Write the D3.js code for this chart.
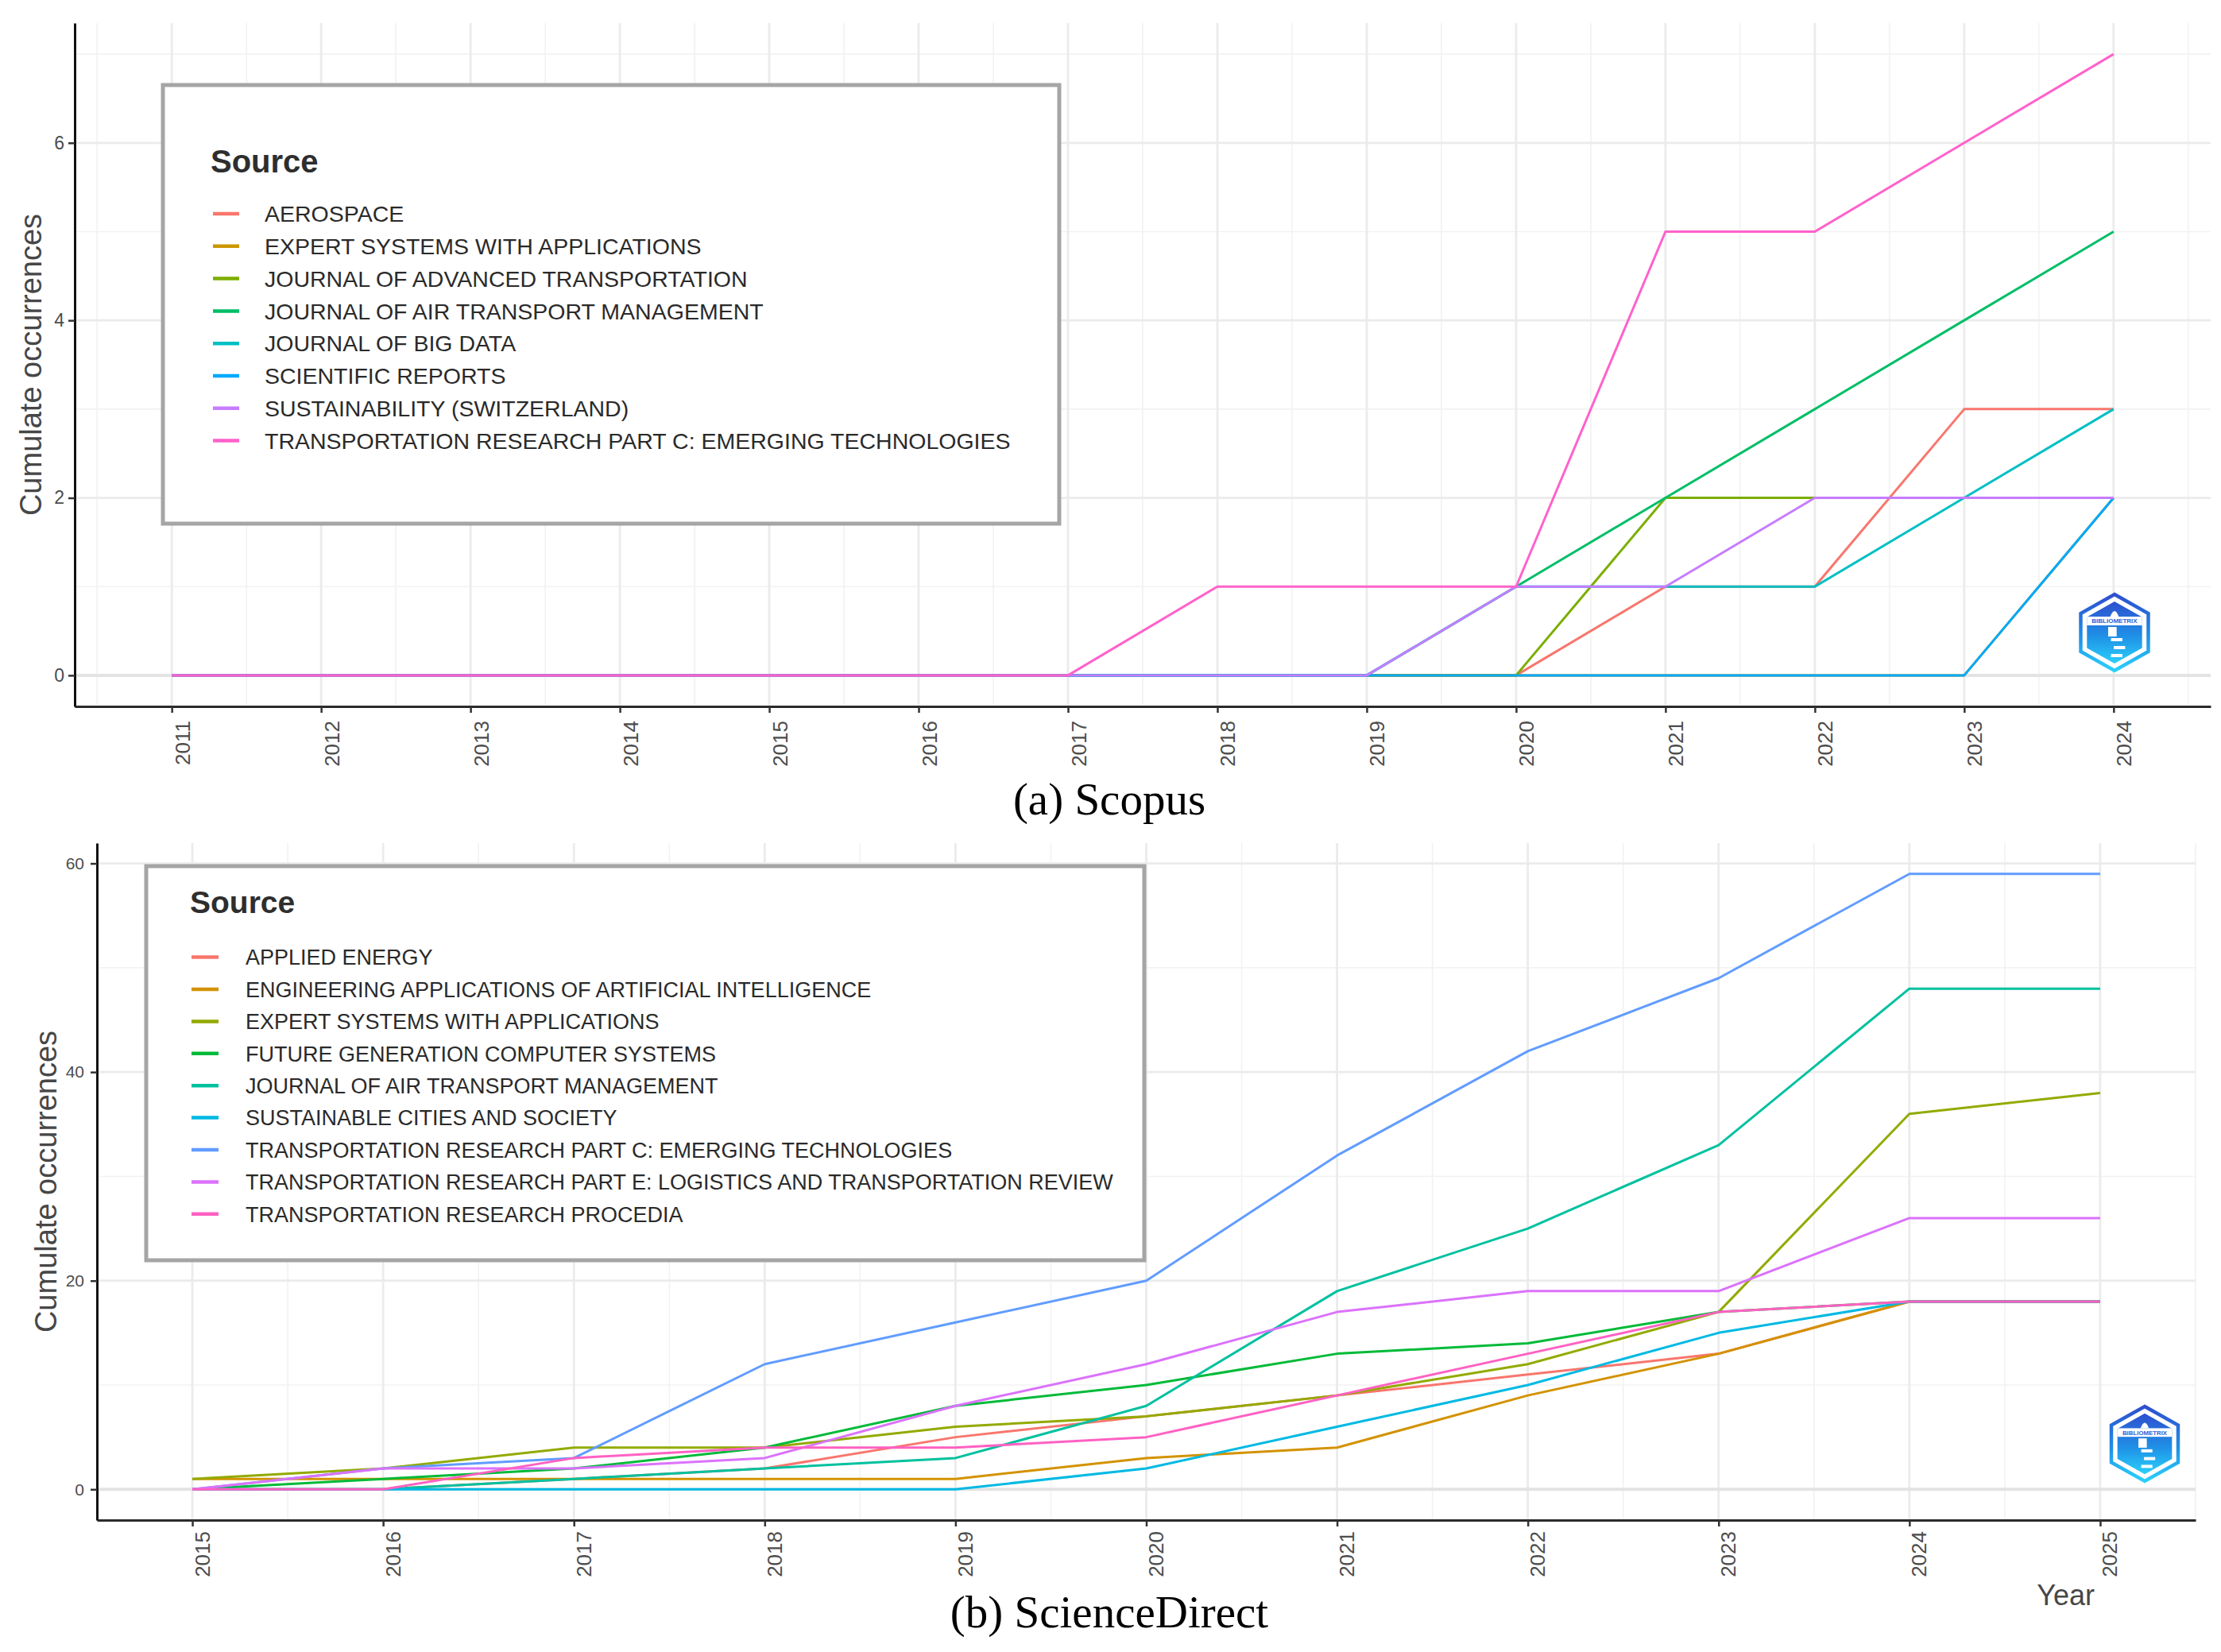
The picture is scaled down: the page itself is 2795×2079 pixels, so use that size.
<!DOCTYPE html>
<html>
<head>
<meta charset="utf-8">
<script src="https://cdn.jsdelivr.net/npm/d3@7"></script>
<style>
  body{margin:0;background:#fff;}
  svg{display:block;}
</style>
</head>
<body>
<svg id="fig"></svg>
<script>
/* ---------- (a) Scopus ---------- */
const yearsA = [2011,2012,2013,2014,2015,2016,2017,2018,2019,2020,2021,2022,2023,2024];
const sourcesA = [
  "AEROSPACE",
  "EXPERT SYSTEMS WITH APPLICATIONS",
  "JOURNAL OF ADVANCED TRANSPORTATION",
  "JOURNAL OF AIR TRANSPORT MANAGEMENT",
  "JOURNAL OF BIG DATA",
  "SCIENTIFIC REPORTS",
  "SUSTAINABILITY (SWITZERLAND)",
  "TRANSPORTATION RESEARCH PART C: EMERGING TECHNOLOGIES"
];
const aerospace   = [0,0,0,0,0,0,0,0,0,0,1,1,3,3];
const expertSysA  = [0,0,0,0,0,0,0,0,0,0,0,0,0,2];
const jAdvTransp  = [0,0,0,0,0,0,0,0,0,0,2,2,2,2];
const jAirTranspA = [0,0,0,0,0,0,0,0,0,1,2,3,4,5];
const jBigData    = [0,0,0,0,0,0,0,0,0,1,1,1,2,3];
const sciReports  = [0,0,0,0,0,0,0,0,0,0,0,0,0,2];
const sustain     = [0,0,0,0,0,0,0,0,0,1,1,2,2,2];
const trPartCA    = [0,0,0,0,0,0,0,1,1,1,5,5,6,7];
const seriesA = [aerospace,expertSysA,jAdvTransp,jAirTranspA,jBigData,sciReports,sustain,trPartCA];
const coloursA = ["#F8766D","#CD9600","#7CAE00","#00BE67","#00BFC4","#00A9FF","#C77CFF","#FF61CC"];
const yTicksA = [0,2,4,6];
const yMinorA = [1,3,5,7];

/* ---------- (b) ScienceDirect ---------- */
const yearsB = [2015,2016,2017,2018,2019,2020,2021,2022,2023,2024,2025];
const sourcesB = [
  "APPLIED ENERGY",
  "ENGINEERING APPLICATIONS OF ARTIFICIAL INTELLIGENCE",
  "EXPERT SYSTEMS WITH APPLICATIONS",
  "FUTURE GENERATION COMPUTER SYSTEMS",
  "JOURNAL OF AIR TRANSPORT MANAGEMENT",
  "SUSTAINABLE CITIES AND SOCIETY",
  "TRANSPORTATION RESEARCH PART C: EMERGING TECHNOLOGIES",
  "TRANSPORTATION RESEARCH PART E: LOGISTICS AND TRANSPORTATION REVIEW",
  "TRANSPORTATION RESEARCH PROCEDIA"
];
const appliedEnergy = [0,0,1,2,5,7,9,11,13,18,18];
const engAppAI      = [1,1,1,1,1,3,4,9,13,18,18];
const expertSysB    = [1,2,4,4,6,7,9,12,17,36,38];
const futureGenCS   = [0,1,2,4,8,10,13,14,17,18,18];
const jAirTranspB   = [0,0,1,2,3,8,19,25,33,48,48];
const sustCities    = [0,0,0,0,0,2,6,10,15,18,18];
const trPartCB      = [0,2,3,12,16,20,32,42,49,59,59];
const trPartE       = [0,2,2,3,8,12,17,19,19,26,26];
const trProcedia    = [0,0,3,4,4,5,9,13,17,18,18];
const seriesB = [appliedEnergy,engAppAI,expertSysB,futureGenCS,jAirTranspB,sustCities,trPartCB,trPartE,trProcedia];
const coloursB = ["#F8766D","#D39200","#93AA00","#00BA38","#00C19F","#00B9E3","#619CFF","#DB72FB","#FF61C3"];
const yTicksB = [0,20,40,60];
const yMinorB = [10,30,50];

/* ---------- canvas ---------- */
const WIDTH = 2795, HEIGHT = 2079;
const SANS = "'Liberation Sans', Arial, Helvetica, sans-serif";
const SERIF = "'Liberation Serif', 'Times New Roman', serif";
const svg = d3.select("#fig").attr("width",WIDTH).attr("height",HEIGHT)
  .attr("viewBox",`0 0 ${WIDTH} ${HEIGHT}`);

const defs = svg.append("defs");
const grad = defs.append("linearGradient").attr("id","logoGrad")
  .attr("x1",0).attr("y1",0).attr("x2",0).attr("y2",1);
grad.append("stop").attr("offset","0%").attr("stop-color","#2f4fcf");
grad.append("stop").attr("offset","55%").attr("stop-color","#1f8fe6");
grad.append("stop").attr("offset","100%").attr("stop-color","#2ad0fa");

/* ---------- one panel ---------- */
function drawPanel(p){
  const g = svg.append("g");
  const n = p.years.length;
  const x = d3.scaleLinear().domain([p.years[0]-p.xPad, p.years[n-1]+p.xPad]).range([p.l,p.r]);
  const y = d3.scaleLinear().domain(p.yDom).range([p.b,p.t]);

  // grid
  const xMinor = p.years.map(d=>d-0.5).concat([p.years[n-1]+0.5]).filter(d=>d>x.domain()[0]);
  const grid = g.append("g");
  grid.selectAll(".vmin").data(xMinor).join("line")
    .attr("x1",x).attr("x2",x).attr("y1",p.t).attr("y2",p.b)
    .attr("stroke","#f2f2f2").attr("stroke-width",1.6);
  grid.selectAll(".hmin").data(p.yMinor).join("line")
    .attr("x1",p.l).attr("x2",p.r).attr("y1",y).attr("y2",y)
    .attr("stroke","#f2f2f2").attr("stroke-width",1.6);
  grid.selectAll(".vmaj").data(p.years).join("line")
    .attr("x1",x).attr("x2",x).attr("y1",p.t).attr("y2",p.b)
    .attr("stroke","#ebebeb").attr("stroke-width",2.8);
  grid.selectAll(".hmaj").data(p.yMajor).join("line")
    .attr("x1",p.l).attr("x2",p.r).attr("y1",y).attr("y2",y)
    .attr("stroke",d=>d===0?"#e3e3e3":"#ebebeb").attr("stroke-width",d=>d===0?4:2.8);

  // series
  const line = d3.line().x((d,i)=>x(p.years[i])).y(d=>y(d));
  g.append("g").selectAll("path").data(p.series).join("path")
    .attr("d",line).attr("fill","none")
    .attr("stroke",(d,i)=>p.colours[i]).attr("stroke-width",3)
    .attr("stroke-linejoin","round");

  // x axis
  const ax = g.append("g").attr("transform",`translate(0,${p.b})`)
    .call(d3.axisBottom(x).tickValues(p.years).tickFormat(d3.format("d")).tickSize(8).tickSizeOuter(0))
    .attr("font-family",SANS).attr("font-size",p.xTickFont);
  ax.select(".domain").attr("stroke","#2b2b2b").attr("stroke-width",3);
  ax.selectAll(".tick line").attr("stroke","#333").attr("stroke-width",2.5);
  ax.selectAll(".tick text")
    .attr("transform","rotate(-90)").attr("x",-p.xLabGap).attr("y",p.xLabBase)
    .attr("dy",null).attr("text-anchor","end").attr("fill","#4d4d4d");

  // y axis
  const ay = g.append("g").attr("transform",`translate(${p.l},0)`)
    .call(d3.axisLeft(y).tickValues(p.yMajor).tickSize(8).tickPadding(p.yPad).tickSizeOuter(0))
    .attr("font-family",SANS).attr("font-size",p.yTickFont);
  ay.select(".domain").attr("stroke","#111").attr("stroke-width",3);
  ay.selectAll(".tick line").attr("stroke","#333").attr("stroke-width",2.5);
  ay.selectAll(".tick text").attr("fill","#4d4d4d");

  // y title
  g.append("text")
    .attr("transform",`translate(${p.yTitleX},${(p.t+p.b)/2}) rotate(-90)`)
    .attr("text-anchor","middle").attr("font-family",SANS).attr("font-size",38)
    .attr("fill","#474747").text("Cumulate occurrences");

  // legend
  const L = p.legend;
  const lg = g.append("g");
  lg.append("rect").attr("x",L.x).attr("y",L.y).attr("width",L.w).attr("height",L.h)
    .attr("fill","#fff").attr("stroke","#a5a5a5").attr("stroke-width",5);
  lg.append("text").attr("x",L.titleX).attr("y",L.titleY)
    .attr("font-family",SANS).attr("font-weight","bold").attr("font-size",L.titleFont)
    .attr("fill","#2e2e2e").text("Source");
  const item = lg.selectAll(".item").data(p.names).join("g")
    .attr("transform",(d,i)=>`translate(0,${L.itemY+i*L.step})`);
  item.append("line").attr("x1",L.keyX).attr("x2",L.keyX+L.keyW).attr("y1",0).attr("y2",0)
    .attr("stroke",(d,i)=>p.colours[i]).attr("stroke-width",4.5);
  item.append("text").attr("x",L.textX).attr("y",0).attr("dy","0.36em")
    .attr("font-family",SANS).attr("font-size",L.font).attr("fill","#2a2a2a").text(d=>d);

  drawLogo(p.logo[0],p.logo[1],p.logo[2],p.logo[3]);
  return g;
}

/* ---------- bibliometrix badge ---------- */
function drawLogo(cx,cy,w,h){
  const g = svg.append("g").attr("transform",`translate(${cx},${cy})`);
  const hex = (sw,sh)=>`M0,${-sh/2}L${sw/2},${-sh/4}L${sw/2},${sh/4}L0,${sh/2}L${-sw/2},${sh/4}L${-sw/2},${-sh/4}Z`;
  g.append("path").attr("d",hex(w-4,h-4)).attr("fill","#fff")
    .attr("stroke","url(#logoGrad)").attr("stroke-width",4.5);
  g.append("path").attr("d",hex(w*0.78,h*0.78)).attr("fill","url(#logoGrad)");
  // dome on roof
  g.append("path").attr("d",`M${-w*0.06},${-h*0.2}Q0,${-h*0.34} ${w*0.06},${-h*0.2}Z`).attr("fill","#fff");
  // name band
  g.append("rect").attr("x",-w*0.39).attr("y",-h*0.2).attr("width",w*0.78).attr("height",h*0.11).attr("fill","#fff");
  g.append("text").attr("x",0).attr("y",-h*0.145).attr("dy","0.35em").attr("text-anchor","middle")
    .attr("font-family",SANS).attr("font-weight","bold").attr("font-size",h*0.08)
    .attr("fill","#2b5fd8").text("BIBLIOMETRIX");
  // tower
  g.append("rect").attr("x",-w*0.09).attr("y",-h*0.07).attr("width",w*0.12).attr("height",h*0.12).attr("fill","#fff");
  [0.07,0.17,0.27].forEach((k,i)=>{
    g.append("rect").attr("x",-w*0.05+(i%2)*w*0.04).attr("y",h*k).attr("width",w*0.16).attr("height",h*0.04).attr("fill","#fff");
  });
}

/* ---------- draw both ---------- */
drawPanel({
  years:yearsA, series:seriesA, colours:coloursA, names:sourcesA,
  l:94, r:2782, t:29, b:889, xPad:0.65, yDom:[-0.35,7.35],
  yMajor:yTicksA, yMinor:yMinorA,
  xTickFont:26, xLabGap:18, xLabBase:22, yTickFont:23, yPad:5, yTitleX:52,
  legend:{x:205,y:107,w:1128,h:552,titleX:265,titleY:217,titleFont:40,
          itemY:269,step:40.8,keyX:268,keyW:33,textX:333,font:28.5},
  logo:[2661,796,89,100]
});

drawPanel({
  years:yearsB, series:seriesB, colours:coloursB, names:sourcesB,
  l:122, r:2763, t:1061, b:1913, xPad:0.5, yDom:[-2.95,61.95],
  yMajor:yTicksB, yMinor:yMinorB,
  xTickFont:26, xLabGap:14, xLabBase:21, yTickFont:21, yPad:8, yTitleX:71,
  legend:{x:184,y:1090,w:1256,h:496,titleX:239,titleY:1149,titleFont:39,
          itemY:1204.6,step:40.4,keyX:241,keyW:34,textX:309,font:27},
  logo:[2699,1817,88,98]
});

/* ---------- captions ---------- */
svg.append("text").attr("x",1396).attr("y",1025).attr("text-anchor","middle")
  .attr("font-family",SERIF).attr("font-size",57).attr("fill","#000").text("(a) Scopus");
svg.append("text").attr("x",1396).attr("y",2048).attr("text-anchor","middle")
  .attr("font-family",SERIF).attr("font-size",57).attr("fill","#000").text("(b) ScienceDirect");
svg.append("text").attr("x",2636).attr("y",2020).attr("text-anchor","end")
  .attr("font-family",SANS).attr("font-size",36).attr("fill","#474747").text("Year");
</script>
</body>
</html>
